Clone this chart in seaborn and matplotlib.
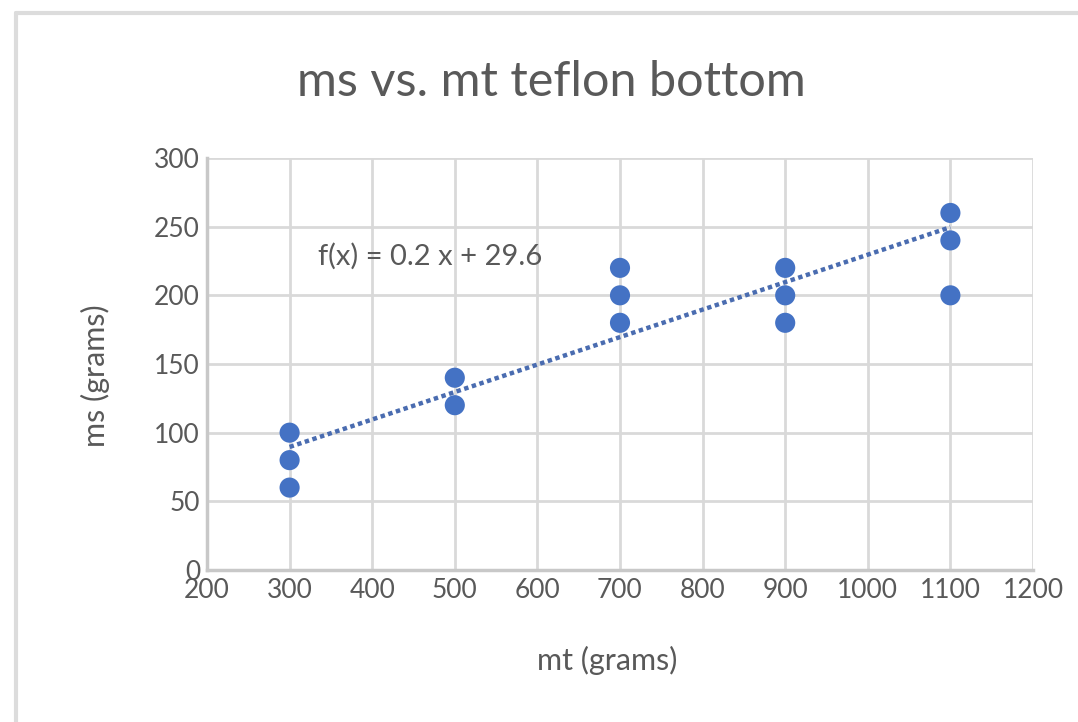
import matplotlib
matplotlib.use("Agg")
import matplotlib.pyplot as plt
from matplotlib.lines import Line2D
import seaborn as sns
import numpy as np
import pandas as pd

# Data
mt_grams = [300, 300, 300, 500, 500, 700, 700, 700, 900, 900, 900, 1100, 1100, 1100]
ms_grams = [100, 80, 60, 140, 120, 220, 200, 180, 220, 200, 180, 260, 240, 200]
trend_slope = 0.2
trend_intercept = 29.6
trend_label = "f(x) = 0.2 x + 29.6"
x_ticks = [200, 300, 400, 500, 600, 700, 800, 900, 1000, 1100, 1200]
y_ticks = [0, 50, 100, 150, 200, 250, 300]
title = "ms vs. mt teflon bottom"
xlabel = "mt (grams)"
ylabel = "ms (grams)"

df = pd.DataFrame({"mt": mt_grams, "ms": ms_grams})

sns.set_style("white")
plt.rcParams["font.family"] = ["Lato", "DejaVu Sans"]

W, H = 1078, 722
fig = plt.figure(figsize=(W / 100, H / 100), dpi=100)
ax = fig.add_axes([207 / W, 1 - 570 / H, 826 / W, 412 / H])

text_col = "#595959"
grid_col = "#d9d9d9"
blue = "#4472C4"

# trend line
tx = np.array([min(mt_grams), max(mt_grams)])
ax.plot(tx, trend_slope * tx + trend_intercept, linestyle=(0, (1, 0.8)),
        color="#4a6cb0", lw=3.2, zorder=2)

sns.scatterplot(data=df, x="mt", y="ms", ax=ax, s=210, color=blue,
                edgecolor="none", zorder=3, legend=False)

ax.set_xlim(200, 1200)
ax.set_ylim(0, 300)
ax.set_xticks(x_ticks)
ax.set_yticks(y_ticks)
ax.grid(True, color=grid_col, lw=2)
ax.set_axisbelow(True)
for s in ["top", "right"]:
    ax.spines[s].set_visible(False)
for s in ["left", "bottom"]:
    ax.spines[s].set_color("#c8c8c8")
    ax.spines[s].set_linewidth(2.5)
ax.tick_params(axis="both", length=0, labelsize=19, labelcolor=text_col)
ax.tick_params(axis="y", pad=5)
ax.tick_params(axis="x", pad=6)
ax.set_xlabel("")
ax.set_ylabel("")

ax.text(334, 228.7, trend_label, fontsize=21, color=text_col, ha="left", va="center")

fig.text(551 / W, 1 - 82 / H, title, fontsize=35, color=text_col, ha="center", va="center")
fig.text(607 / W, 1 - 660 / H, xlabel, fontsize=22, color=text_col, ha="center", va="center")
fig.text(95 / W, 1 - 376 / H, ylabel, fontsize=22, color=text_col, ha="center", va="center", rotation=90)

# outer border (top and left visible)
fig.add_artist(Line2D([16 / W, 16 / W], [0, 1 - 13 / H], color="#dcdcdc", lw=3, transform=fig.transFigure))
fig.add_artist(Line2D([16 / W, 1], [1 - 13 / H, 1 - 13 / H], color="#dcdcdc", lw=3, transform=fig.transFigure))

fig.savefig("out.png", dpi=100, facecolor="white")
